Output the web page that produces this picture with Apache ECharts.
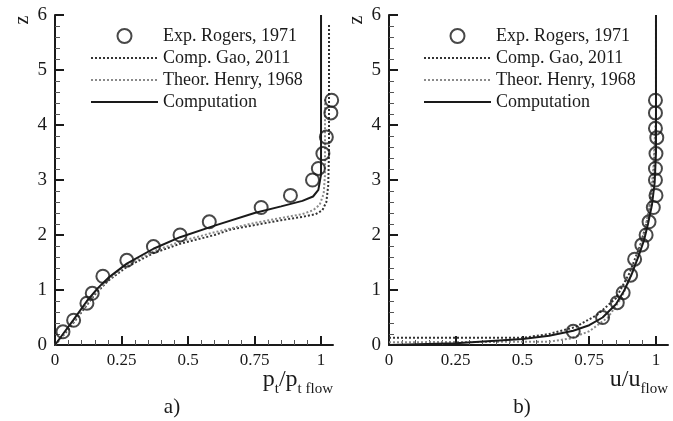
<!DOCTYPE html>
<html>
<head>
<meta charset="utf-8">
<script src="https://cdn.jsdelivr.net/npm/echarts@6/dist/echarts.min.js"></script>
<style>
  html, body { margin: 0; padding: 0; background: #fff; }
  #chart { width: 673px; height: 421px; }
</style>
</head>
<body>
<div id="chart"></div>
<script>
// names used in both legends
var seriesNames = ['Exp. Rogers, 1971', 'Comp. Gao, 2011', 'Theor. Henry, 1968', 'Computation'];
var xTicks = [0, 0.25, 0.5, 0.75, 1];

// panel a) total pressure ratio vs z
var expPtX = [0.03, 0.07, 0.12, 0.14, 0.18, 0.27, 0.37, 0.47, 0.58, 0.775, 0.885, 0.968, 0.99, 1.007, 1.02, 1.037, 1.04];
var expPtZ = [0.24, 0.45, 0.76, 0.94, 1.25, 1.54, 1.79, 2.0, 2.24, 2.5, 2.72, 3.0, 3.21, 3.48, 3.78, 4.22, 4.45];
var compPtX = [0, 0.03, 0.07, 0.12, 0.16, 0.2, 0.27, 0.37, 0.47, 0.6, 0.75, 0.85, 0.93, 0.97, 0.99, 1.0, 1.0];
var compPtZ = [0, 0.2, 0.46, 0.8, 1.03, 1.22, 1.48, 1.75, 1.96, 2.17, 2.4, 2.52, 2.62, 2.7, 2.82, 3.1, 6.0];
var gaoPtX = [0, 0.05, 0.1, 0.15, 0.2, 0.27, 0.37, 0.47, 0.6, 0.66, 0.75, 0.85, 0.93, 0.98, 1.005, 1.02, 1.027, 1.03, 1.03];
var gaoPtZ = [0, 0.28, 0.6, 0.92, 1.17, 1.42, 1.67, 1.84, 2.0, 2.1, 2.18, 2.27, 2.33, 2.38, 2.45, 2.6, 2.9, 3.5, 5.85];
var henryPtX = [0, 0.05, 0.1, 0.15, 0.2, 0.27, 0.37, 0.47, 0.6, 0.75, 0.85, 0.93, 0.97, 0.995, 1.01, 1.015, 1.015];
var henryPtZ = [0, 0.3, 0.62, 0.94, 1.19, 1.45, 1.7, 1.88, 2.05, 2.22, 2.31, 2.38, 2.45, 2.55, 2.75, 3.1, 4.5];

// panel b) velocity ratio vs z
var expUX = [0.69, 0.80, 0.855, 0.877, 0.905, 0.92, 0.947, 0.963, 0.974, 0.99, 1.0, 0.998, 0.998, 1.0, 1.003, 0.998, 0.998, 0.998];
var expUZ = [0.25, 0.5, 0.77, 0.95, 1.27, 1.56, 1.82, 2.0, 2.24, 2.5, 2.72, 3.0, 3.21, 3.48, 3.77, 3.94, 4.22, 4.45];
var compUX = [0, 0.25, 0.5, 0.6, 0.69, 0.75, 0.8, 0.85, 0.88, 0.91, 0.935, 0.955, 0.97, 0.985, 0.995, 1.0, 1.0];
var compUZ = [0, 0.03, 0.11, 0.17, 0.26, 0.36, 0.5, 0.74, 0.98, 1.3, 1.62, 1.9, 2.2, 2.55, 2.95, 3.5, 6.0];
var gaoUX = [0, 0.5, 0.6, 0.7, 0.78, 0.85, 0.9, 0.94, 0.97, 0.99, 1.0, 1.0];
var gaoUZ = [0.13, 0.13, 0.2, 0.33, 0.55, 0.85, 1.3, 1.8, 2.3, 3.0, 4.0, 5.9];
var henryUX = [0, 0.6, 0.68, 0.75, 0.82, 0.87, 0.91, 0.95, 0.975, 0.99, 1.0, 1.0];
var henryUZ = [0.05, 0.06, 0.12, 0.25, 0.5, 0.85, 1.3, 1.9, 2.5, 3.2, 4.2, 5.9];

function pairs(xs, zs) {
  return xs.map(function (x, i) { return [x, zs[i]]; });
}

var font = 'Liberation Serif';
var ink = '#1a1a1a';

function xAxisFor(gridIndex) {
  return {
    gridIndex: gridIndex,
    type: 'value',
    min: 0,
    max: 1.045,
    interval: 0.25,
    axisLine: {show: true, onZero: false, lineStyle: {color: ink, width: 2}},
    axisTick: {show: true, inside: true, length: 9, lineStyle: {color: ink, width: 2}, customValues: xTicks},
    minorTick: {show: true, splitNumber: 5, length: 5, lineStyle: {color: '#555', width: 1}},
    axisLabel: {showMaxLabel: false, fontFamily: font, fontSize: 17, color: ink, margin: 7},
    splitLine: {show: false}
  };
}

function yAxisFor(gridIndex) {
  return {
    gridIndex: gridIndex,
    type: 'value',
    min: 0,
    max: 6,
    interval: 1,
    axisLine: {show: true, onZero: false, lineStyle: {color: ink, width: 2}},
    axisTick: {show: true, inside: true, length: 9, lineStyle: {color: ink, width: 2}},
    minorTick: {show: true, splitNumber: 5, length: 5, lineStyle: {color: '#555', width: 1}},
    axisLabel: {fontFamily: font, fontSize: 19, color: ink, margin: 8},
    splitLine: {show: false}
  };
}

function legendFor(left) {
  return {
    data: [
      {name: seriesNames[0], itemStyle: {color: 'transparent', borderColor: ink, borderWidth: 2}},
      {name: seriesNames[1], itemStyle: {opacity: 0}},
      {name: seriesNames[2], itemStyle: {opacity: 0}},
      {name: seriesNames[3], itemStyle: {opacity: 0}}
    ],
    orient: 'vertical',
    left: left,
    top: 27,
    padding: 0,
    itemWidth: 67,
    itemHeight: 14,
    itemGap: 4,
    textStyle: {fontFamily: font, fontSize: 18, color: ink}
  };
}

function panelSeries(idx, exp, gao, henry, comp) {
  return [
    {
      name: seriesNames[0], type: 'scatter', xAxisIndex: idx, yAxisIndex: idx,
      data: exp, symbol: 'circle', symbolSize: 13,
      itemStyle: {color: 'transparent', borderColor: ink, borderWidth: 2}, z: 5
    },
    {
      name: seriesNames[1], type: 'line', xAxisIndex: idx, yAxisIndex: idx,
      data: gao, symbol: 'none', color: '#333',
      lineStyle: {color: '#333', width: 2, type: [2, 2]}
    },
    {
      name: seriesNames[2], type: 'line', xAxisIndex: idx, yAxisIndex: idx,
      data: henry, symbol: 'none', color: '#8a8a8a',
      lineStyle: {color: '#8a8a8a', width: 2, type: [2, 2]}
    },
    {
      name: seriesNames[3], type: 'line', xAxisIndex: idx, yAxisIndex: idx,
      data: comp, symbol: 'none', color: ink,
      lineStyle: {color: ink, width: 2}
    }
  ];
}

var richName = {
  a: {fontFamily: font, fontSize: 24, fill: ink, lineHeight: 24},
  b: {fontFamily: font, fontSize: 15, fill: ink, verticalAlign: 'bottom', lineHeight: 13, padding: [0, 0, -5, 0]}
};

var chartDom = document.getElementById('chart');
var myChart = echarts.init(chartDom);
var option;

option = {
  backgroundColor: '#ffffff',
  animation: false,
  grid: [
    {left: 55, top: 15, width: 278, height: 330, outerBoundsMode: 'none'},
    {left: 389, top: 15, width: 279, height: 330, outerBoundsMode: 'none'}
  ],
  xAxis: [xAxisFor(0), xAxisFor(1)],
  yAxis: [yAxisFor(0), yAxisFor(1)],
  legend: [legendFor(90), legendFor(423)],
  graphic: [
    {type: 'text', x: 23, y: 20, rotation: Math.PI / 2,
      style: {text: 'z', font: '20px "Liberation Serif"', fill: ink, align: 'center', verticalAlign: 'middle'}},
    {type: 'text', x: 357, y: 20, rotation: Math.PI / 2,
      style: {text: 'z', font: '20px "Liberation Serif"', fill: ink, align: 'center', verticalAlign: 'middle'}},
    {type: 'text', x: 333, y: 380,
      style: {text: '{a|p}{b|t}{a|/p}{b|t flow}', rich: richName, align: 'right', verticalAlign: 'middle'}},
    {type: 'text', x: 668, y: 380,
      style: {text: '{a|u/u}{b|flow}', rich: richName, align: 'right', verticalAlign: 'middle'}},
    {type: 'text', x: 172, y: 407,
      style: {text: 'a)', font: '21px "Liberation Serif"', fill: ink, align: 'center', verticalAlign: 'middle'}},
    {type: 'text', x: 522, y: 407,
      style: {text: 'b)', font: '21px "Liberation Serif"', fill: ink, align: 'center', verticalAlign: 'middle'}}
  ],
  series: panelSeries(0, pairs(expPtX, expPtZ), pairs(gaoPtX, gaoPtZ), pairs(henryPtX, henryPtZ), pairs(compPtX, compPtZ))
    .concat(panelSeries(1, pairs(expUX, expUZ), pairs(gaoUX, gaoUZ), pairs(henryUX, henryUZ), pairs(compUX, compUZ)))
};

myChart.setOption(option);
</script>
</body>
</html>
